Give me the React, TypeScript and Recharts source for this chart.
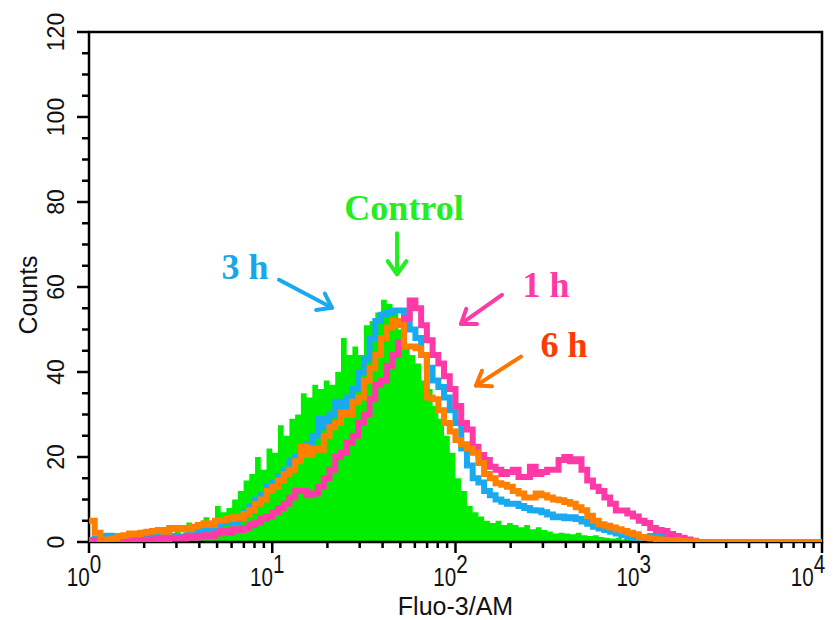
import React from 'react';
import {
  ComposedChart,
  Area,
  Line,
  XAxis,
  YAxis,
  ReferenceArea,
  ReferenceDot,
} from 'recharts';

// Histogram channels: 128 bins spread evenly over 4 decades (10^0 .. 10^4)
const BIN_COUNT = 128;

const controlCounts = [
  0.5, 0.3, 0.5, 0.4, 0.6, 0.5, 0.8, 2.4, 1.0, 1.2,
  1.0, 1.6, 2.0, 1.4, 1.8, 2.4, 2.0, 4.6, 3.2, 3.8,
  5.8, 4.5, 8.5, 7.0, 8.0, 10, 12, 14.5, 16, 20,
  17, 22, 21, 27.5, 25, 29, 30, 35, 34, 37,
  36, 38, 37, 40, 48, 44, 46, 44, 51, 52,
  54, 57, 56, 54, 50, 46, 44, 42, 38, 36,
  32, 29, 25, 21, 15, 12, 8.5, 7, 6, 5,
  4.5, 5, 4, 4.5, 4, 3.5, 4, 3, 3.5, 2.8,
  2.5, 2.0, 2.2, 2.0, 1.8, 2.2, 1.6, 1.4, 1.6, 1.2,
  1.0, 0.8, 1.0, 0.6, 0.5, 0.4, 0.2, 0, 0, 0,
  0, 0, 0, 0, 0, 0, 0, 0, 0, 0,
  0, 0, 0, 0, 0, 0, 0, 0, 0, 0,
  0, 0, 0, 0, 0, 0, 0, 0,
];

const h3Counts = [
  0.5, 0.8, 1.2, 1.5, 1.0, 0.4, 0.6, 0.8, 1.0, 0.8,
  1.2, 1.4, 1.2, 1.6, 1.4, 1.0, 1.2, 1.6, 1.8, 2.5,
  3.8, 3.0, 3.5, 4.5, 5.0, 4.6, 5.5, 7, 8.5, 10,
  11, 13, 14, 15.5, 17, 19, 20, 21, 23, 25,
  29, 27, 30, 33, 32, 34, 36, 40, 43, 48,
  52, 53.5, 54, 54.5, 54.5, 53.5, 50, 48, 44, 41,
  38, 36.5, 34, 31, 28, 22, 18, 15, 14, 12,
  11, 10, 9.5, 9, 9, 8.5, 8, 7.5, 7.4, 7,
  6.5, 5.8, 6, 5.6, 5.8, 5.4, 4.8, 4.3, 3.6, 3.2,
  2.8, 2.4, 2.0, 1.6, 1.2, 1.0, 1.0, 1.2, 1.4, 1.4,
  1.2, 0.8, 0.5, 0.3, 0.2, 0, 0, 0, 0, 0,
  0, 0, 0, 0, 0, 0, 0, 0, 0, 0,
  0, 0, 0, 0, 0, 0, 0, 0,
];

const h1Counts = [
  0.3, 0.2, 0.3, 0.2, 0.3, 0.4, 0.3, 0.5, 0.4, 0.6,
  0.5, 0.6, 0.8, 0.6, 0.8, 1.0, 0.8, 1.2, 1.0, 1.4,
  1.6, 1.4, 2.0, 2.6, 2.2, 3.0, 2.8, 3.3, 4.0, 4.6,
  5.5, 6, 7, 8, 9, 10.5, 12, 12, 11, 11.4,
  13, 15, 17, 20, 21, 23.4, 25, 28, 30, 33.6,
  37, 38, 41.5, 44, 47, 52.7, 56.8, 55, 51, 47.5,
  44, 42, 39, 36, 32, 28, 26.5, 22.4, 20.5, 19.3,
  17.7, 17, 16, 16.5, 17, 15.3, 15.3, 17.7, 16, 16.5,
  17, 17, 19.3, 20, 19, 19.5, 17, 14.5, 13, 12,
  10.5, 9, 7.4, 7.4, 6.7, 6, 5, 4.5, 3.3, 2.8,
  2.6, 1.9, 1.4, 1.0, 0.6, 0.3, 0, 0, 0, 0,
  0, 0, 0, 0, 0, 0, 0, 0, 0, 0,
  0, 0, 0, 0, 0, 0, 0, 0,
];

const h6Counts = [
  5.0, 2.2, 0.6, 0.5, 0.8, 1.4, 1.6, 2.0, 1.8, 2.2,
  2.4, 2.6, 2.8, 2.4, 3.3, 3.0, 3.3, 3.0, 3.6, 4.0,
  4.4, 4.0, 5.0, 5.2, 5.4, 5.8, 5.6, 6.6, 7.5, 9,
  10, 12, 13, 14.5, 16, 17, 19, 22.4, 20.5, 22,
  21.7, 25, 27, 28, 30.5, 30, 33, 34, 38, 41,
  44, 48, 50.5, 52, 51, 46, 46, 45.6, 44, 34,
  33.6, 31, 28, 26, 24, 23, 22, 21, 18.6, 16,
  15, 13.8, 13.5, 13, 12, 11.4, 10.5, 10.5, 11.4, 11,
  10.5, 10, 9.8, 9.4, 9, 8.2, 7.5, 6.2, 5.0, 4.2,
  3.8, 3.4, 3.0, 2.6, 2.2, 1.8, 1.2, 1.0, 0.8, 0.6,
  0.5, 0.5, 0.4, 0.3, 0.2, 0.2, 0, 0, 0, 0,
  0, 0, 0, 0, 0, 0, 0, 0, 0, 0,
  0, 0, 0, 0, 0, 0, 0, 0,
];

// Decade exponents shown on the x axis and count ticks on the y axis
const decadeTicks = [0, 1, 2, 3, 4];
const countTicks = [0, 20, 40, 60, 80, 100, 120];

// Callouts: label, anchor point (log10 intensity, count) of the arrow tip
const calloutLabels = ['Control', '3 h', '1 h', '6 h'];
const calloutLog = [1.681, 1.326, 2.03, 2.112];
const calloutCount = [63, 55.1, 51.3, 36.8];

const COLORS = {
  control: '#00ee00',
  h3: '#19a9ee',
  h1: '#ff3aa6',
  h6: '#ff7f00',
};

const calloutStyle = [
  { text: '#22ee22', arrow: '#22ee22', tail: [0, -41], label: [7, -54] },
  { text: '#1aa6ea', arrow: '#19a9ee', tail: [-53, -28], label: [-87, -29] },
  { text: '#ff3aa6', arrow: '#ff3aa6', tail: [41, -29], label: [85, -27] },
  { text: '#ff3c00', arrow: '#ff7300', tail: [45, -29], label: [88, -29] },
];

const rows = Array.from({ length: BIN_COUNT + 1 }, (_, i) => {
  const k = Math.min(i, BIN_COUNT - 1);
  return {
    lg: (i * 4) / BIN_COUNT,
    control: controlCounts[k],
    h3: h3Counts[k],
    h1: h1Counts[k],
    h6: h6Counts[k],
  };
});

// Major decade ticks plus log-spaced minor ticks (2..9 within each decade)
const xTickValues: number[] = [];
decadeTicks.forEach((d) => {
  xTickValues.push(d);
  if (d < 4) {
    for (let m = 2; m <= 9; m++) xTickValues.push(d + Math.log10(m));
  }
});
const yTickValues: number[] = [];
for (let v = 0; v <= 120; v += 5) yTickValues.push(v);

const AXIS_FONT = '"Liberation Sans", Arial, Helvetica, sans-serif';

const XTick = (props: any) => {
  const { x, y, payload } = props;
  const v = payload.value as number;
  const major = Math.abs(v - Math.round(v)) < 1e-6;
  // the last decade label is nudged inward so it stays on the page
  const lx = x - (v === 4 ? 14 : 5);
  const ly = y + 44;
  return (
    <g>
      <line x1={x} x2={x} y1={y} y2={y + (major ? 11 : 6)} stroke="#000" strokeWidth={2.5} />
      {major && (
        <text
          x={lx}
          y={ly}
          textAnchor="middle"
          fontFamily={AXIS_FONT}
          fontSize={24}
          fill="#111"
          transform={`translate(${lx} ${ly}) scale(0.86 1.08) translate(${-lx} ${-ly})`}
        >
          10
          <tspan dy={-12}>{Math.round(v)}</tspan>
        </text>
      )}
    </g>
  );
};

const YTick = (props: any) => {
  const { x, y, payload } = props;
  const v = payload.value as number;
  const major = countTicks.includes(v);
  const tx = x - 33;
  return (
    <g>
      <line x1={x - (major ? 12 : 7)} x2={x} y1={y} y2={y} stroke="#000" strokeWidth={2.5} />
      {major && (
        <text
          x={tx}
          y={y}
          transform={`rotate(-90 ${tx} ${y})`}
          textAnchor="middle"
          dominantBaseline="central"
          fontFamily={AXIS_FONT}
          fontSize={23}
          fill="#111"
        >
          {v}
        </text>
      )}
    </g>
  );
};

const YTitle = (props: any) => {
  const vb = props.viewBox || {};
  const cx = (vb.x ?? 0) + 20;
  const cy = (vb.y ?? 0) + (vb.height ?? 0) / 2 + 8;
  return (
    <text
      x={cx}
      y={cy}
      transform={`rotate(-90 ${cx} ${cy})`}
      textAnchor="middle"
      dominantBaseline="central"
      fontFamily={AXIS_FONT}
      fontSize={25}
      fill="#111"
    >
      Counts
    </text>
  );
};

const XTitle = (props: any) => {
  const vb = props.viewBox || {};
  const cx = (vb.x ?? 0) + (vb.width ?? 0) / 2;
  const cy = (vb.y ?? 0) + 73;
  return (
    <text x={cx} y={cy} textAnchor="middle" fontFamily={AXIS_FONT} fontSize={25} fill="#111">
      Fluo-3/AM
    </text>
  );
};

const Callout = ({ cx, cy, idx }: { cx: number; cy: number; idx: number }) => {
  const s = calloutStyle[idx];
  const x1 = cx + s.tail[0];
  const y1 = cy + s.tail[1];
  const ang = Math.atan2(cy - y1, cx - x1);
  const L = 16;
  const spread = 0.62;
  const a1 = [cx - L * Math.cos(ang - spread), cy - L * Math.sin(ang - spread)];
  const a2 = [cx - L * Math.cos(ang + spread), cy - L * Math.sin(ang + spread)];
  return (
    <g>
      <g stroke={s.arrow} strokeWidth={4} fill="none" strokeLinecap="round" strokeLinejoin="round">
        <line x1={x1} y1={y1} x2={cx} y2={cy} />
        <polyline points={`${a1[0]},${a1[1]} ${cx},${cy} ${a2[0]},${a2[1]}`} />
      </g>
      <text
        x={cx + s.label[0]}
        y={cy + s.label[1]}
        textAnchor="middle"
        fontFamily='"Liberation Serif", "Times New Roman", serif'
        fontWeight="bold"
        fontSize={36}
        fill={s.text}
      >
        {calloutLabels[idx]}
      </text>
    </g>
  );
};

export default function App() {
  return (
    // Flush with the page's left edge so the full-width chart fits the window
    <div style={{ marginLeft: -8, width: 839 }}>
      <ComposedChart
        width={839}
        height={612}
        data={rows}
        margin={{ top: 24, right: 17, bottom: 0, left: 8 }}
      >
        <XAxis
          dataKey="lg"
          type="number"
          domain={[0, 4]}
          ticks={xTickValues}
          interval={0}
          tick={<XTick />}
          tickLine={false}
          tickSize={0}
          tickMargin={0}
          axisLine={false}
          height={78}
          allowDataOverflow
          label={<XTitle />}
        />
        <YAxis
          type="number"
          domain={[0, 120]}
          ticks={yTickValues}
          interval={0}
          tick={<YTick />}
          tickLine={false}
          tickSize={0}
          tickMargin={0}
          axisLine={false}
          width={81}
          allowDataOverflow
          label={<YTitle />}
        />
        <Area
          type="stepAfter"
          dataKey="control"
          stroke="none"
          fill={COLORS.control}
          fillOpacity={1}
          isAnimationActive={false}
        />
        <Line type="stepAfter" dataKey="h3" stroke={COLORS.h3} strokeWidth={6} dot={false} isAnimationActive={false} />
        <Line type="stepAfter" dataKey="h1" stroke={COLORS.h1} strokeWidth={6} dot={false} isAnimationActive={false} />
        <Line type="stepAfter" dataKey="h6" stroke={COLORS.h6} strokeWidth={6} dot={false} isAnimationActive={false} />
        <ReferenceArea
          x1={0}
          x2={4}
          y1={0}
          y2={120}
          fill="none"
          stroke="#000"
          strokeWidth={2.5}
          ifOverflow="visible"
        />
        {calloutLabels.map((_, i) => (
          <ReferenceDot
            key={calloutLabels[i]}
            x={calloutLog[i]}
            y={calloutCount[i]}
            r={1}
            ifOverflow="visible"
            shape={(p: any) => <Callout cx={p.cx} cy={p.cy} idx={i} />}
          />
        ))}
      </ComposedChart>
    </div>
  );
}
